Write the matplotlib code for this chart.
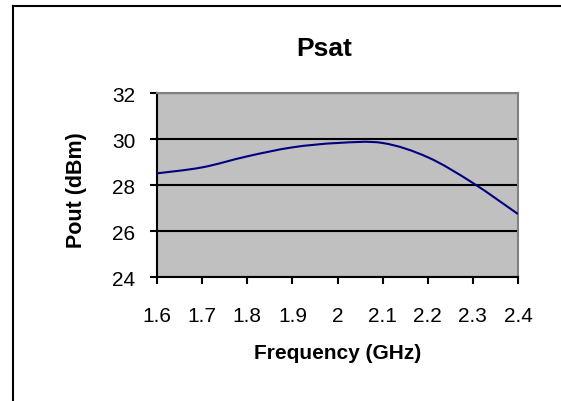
import matplotlib
matplotlib.use("Agg")
import matplotlib.pyplot as plt
import numpy as np
from matplotlib.path import Path
from matplotlib.patches import PathPatch
from matplotlib.lines import Line2D

plt.rcParams['font.family'] = ['Liberation Sans', 'DejaVu Sans']

freq = [1.6, 1.7, 1.8, 1.9, 2.0, 2.1, 2.2, 2.3, 2.4]
pout = [28.52, 28.78, 29.26, 29.65, 29.84, 29.84, 29.22, 28.10, 26.75]
x_ticks = [1.6, 1.7, 1.8, 1.9, 2.0, 2.1, 2.2, 2.3, 2.4]
x_labels = ['1.6', '1.7', '1.8', '1.9', '2', '2.1', '2.2', '2.3', '2.4']
y_ticks = [24, 26, 28, 30, 32]

fig = plt.figure(figsize=(5.61, 4.02), dpi=100)
ax = fig.add_axes([0.2799, 0.3077, 0.6435, 0.4577])
ax.set_facecolor('#c0c0c0')

# excel-style smoothed line (bezier through the points)
p = np.column_stack([freq, pout])
verts = [tuple(p[0])]
codes = [Path.MOVETO]
n = len(p)
for i in range(n - 1):
    p0 = p[i - 1] if i > 0 else p[i]
    p3 = p[i + 2] if i + 2 < n else p[i + 1]
    c1 = p[i] + (p[i + 1] - p0) / 6
    c2 = p[i + 1] - (p3 - p[i]) / 6
    verts += [tuple(c1), tuple(c2), tuple(p[i + 1])]
    codes += [Path.CURVE4] * 3
ax.add_patch(PathPatch(Path(verts, codes), fc='none', ec='#000080', lw=1.5, zorder=3))

ax.set_xlim(1.6, 2.4)
ax.set_ylim(24, 32)
ax.set_xticks(x_ticks)
ax.set_xticklabels(x_labels)
ax.set_yticks(y_ticks)
ax.yaxis.grid(True, color='black', lw=1.5)
ax.set_axisbelow(True)
for s in ['top', 'right']:
    ax.spines[s].set_color('#808080')
    ax.spines[s].set_linewidth(1.5)
for s in ['left', 'bottom']:
    ax.spines[s].set_color('black')
    ax.spines[s].set_linewidth(1.5)
ax.tick_params(axis='both', direction='out', length=5, width=1.5, labelsize=15)
ax.tick_params(axis='x', pad=16)
ax.tick_params(axis='y', pad=10.5)

ax.set_xlabel('Frequency (GHz)', fontsize=15, fontweight='bold', va='center')
ax.xaxis.set_label_coords(0.5, (278.3 - 353) / 184)
ax.set_ylabel('Pout (dBm)', fontsize=15.5, fontweight='bold', va='center')
ax.yaxis.set_label_coords((76 - 157) / 361, (278.3 - 190) / 184)
fig.text(324 / 561, 1 - 49 / 402, 'Psat', fontsize=19, fontweight='bold',
         ha='center', va='center')

# chart-area frame
fig.add_artist(Line2D([12.5 / 561, 12.5 / 561], [0, 1 - 6.7 / 402], color='black', lw=1.5))
fig.add_artist(Line2D([12.5 / 561, 1], [1 - 6.7 / 402, 1 - 6.7 / 402], color='black', lw=1.5))

fig.savefig('out.png', dpi=100)
